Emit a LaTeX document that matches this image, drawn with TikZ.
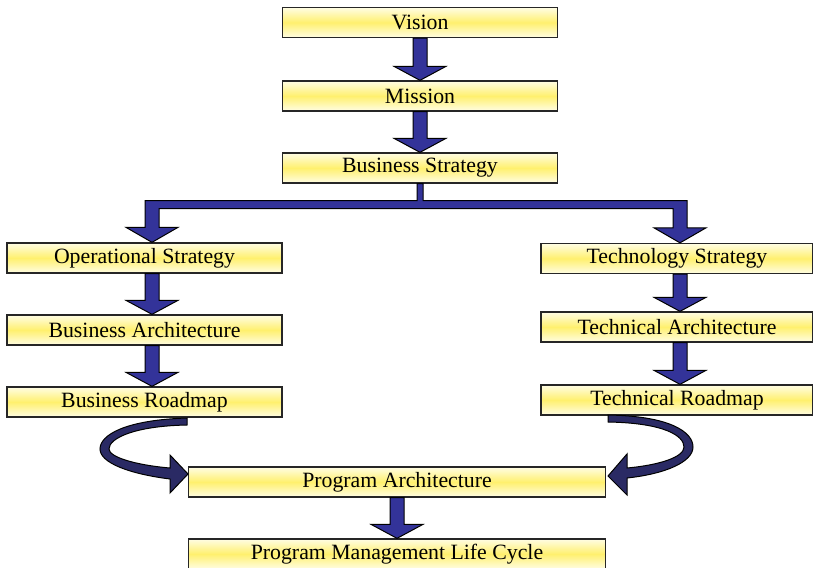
\documentclass[tikz,border=0pt]{standalone}
\usepackage{fontspec}
\setmainfont{Liberation Serif}
\usetikzlibrary{calc}
\definecolor{boxedge}{RGB}{255,253,228}
\definecolor{boxmid}{RGB}{255,240,110}
\definecolor{arrowblue}{RGB}{51,51,153}
\definecolor{curveblue}{RGB}{42,42,100}
\tikzset{
  stepbox/.style={rectangle, draw=black!85, line width=1.3pt, minimum width=275pt, minimum height=30pt,
    top color=boxedge, bottom color=boxedge, middle color=boxmid, inner sep=0pt,
    font=\fontsize{21.8}{25}\selectfont},
  widebox/.style={stepbox, minimum width=417pt},
  blockarrow/.style={draw=black, fill=arrowblue, line width=1pt, line join=miter},
  curvearrow/.style={draw=black, fill=curveblue, line width=1pt, line join=miter}
}
\newcommand\vblock[3]{%
  \path[blockarrow] let \p1=(#1.south), \p2=(#2.north) in
   (#3pt-7pt,\y1) -- (#3pt-7pt,\y2+14pt) -- (#3pt-26pt,\y2+14pt) -- (#3pt,\y2)
   -- (#3pt+26pt,\y2+14pt) -- (#3pt+7pt,\y2+14pt) -- (#3pt+7pt,\y1) -- cycle;}
\begin{document}
\begin{tikzpicture}[x=1pt,y=-1pt]
\useasboundingbox (0,0) rectangle (813,567);
% boxes
\node[stepbox] (vis) at (420,22.5) {Vision};
\node[stepbox] (mis) at (420,96) {Mission};
\node[stepbox] (bs)  at (420,168) {Business Strategy};
\node[stepbox] (ops) at (144.5,258) {Operational Strategy};
\node[stepbox] (ba)  at (144.5,330) {Business Architecture};
\node[stepbox] (br)  at (144.5,402) {Business Roadmap};
\node[stepbox, minimum width=272pt] (ts) at (677,258.5) {Technology Strategy};
\node[stepbox, minimum width=272pt] (ta) at (677,327) {Technical Architecture};
\node[stepbox, minimum width=272pt] (tr) at (677,400) {Technical Roadmap};
\node[widebox] (pa) at (397,482) {Program Architecture};
\node[widebox] (pm) at (397,554) {Program Management Life Cycle};
% straight block arrows
\vblock{vis}{mis}{420}
\vblock{mis}{bs}{420}
\vblock{ops}{ba}{152}
\vblock{ba}{br}{152}
\vblock{ts}{ta}{680}
\vblock{ta}{tr}{680}
\vblock{pa}{pm}{397}
% branch from Business Strategy
\path[blockarrow] let \p0=(bs.south), \p1=(ops.north), \p2=(ts.north) in
 (\x0-3pt,\y0) -- (\x0+3pt,\y0) -- (\x0+3pt,\y0-17pt) -- (687pt,\y0-17pt)
 -- (687pt,\y2+15pt) -- (706pt,\y2+15pt) -- (680pt,\y2) -- (654pt,\y2+15pt)
 -- (673pt,\y2+15pt) -- (673pt,\y0-25pt) -- (159pt,\y0-25pt) -- (159pt,\y1+15pt)
 -- (178pt,\y1+15pt) -- (152pt,\y1) -- (126pt,\y1+15pt) -- (145pt,\y1+15pt)
 -- (145pt,\y0-17pt) -- (\x0-3pt,\y0-17pt) -- cycle;
% curved arrows into Program Architecture
\path[curvearrow] (187,418) .. controls (125,420) and (100,435) .. (100,449)
  .. controls (100,463) and (130,474) .. (170,479)
  -- (170,493) -- (188,474) -- (170,455) -- (170,468)
  .. controls (135,465) and (109,457) .. (109,449)
  .. controls (109,438) and (135,426) .. (187,425) -- cycle;
\path[curvearrow] (608,415) .. controls (670,416) and (693,432) .. (693,447)
  .. controls (693,462) and (665,474) .. (627,478)
  -- (627,495) -- (608,476) -- (627,454) -- (627,468)
  .. controls (660,465) and (684,457) .. (684,447)
  .. controls (684,436) and (665,423) .. (608,422) -- cycle;
\end{tikzpicture}
\end{document}
